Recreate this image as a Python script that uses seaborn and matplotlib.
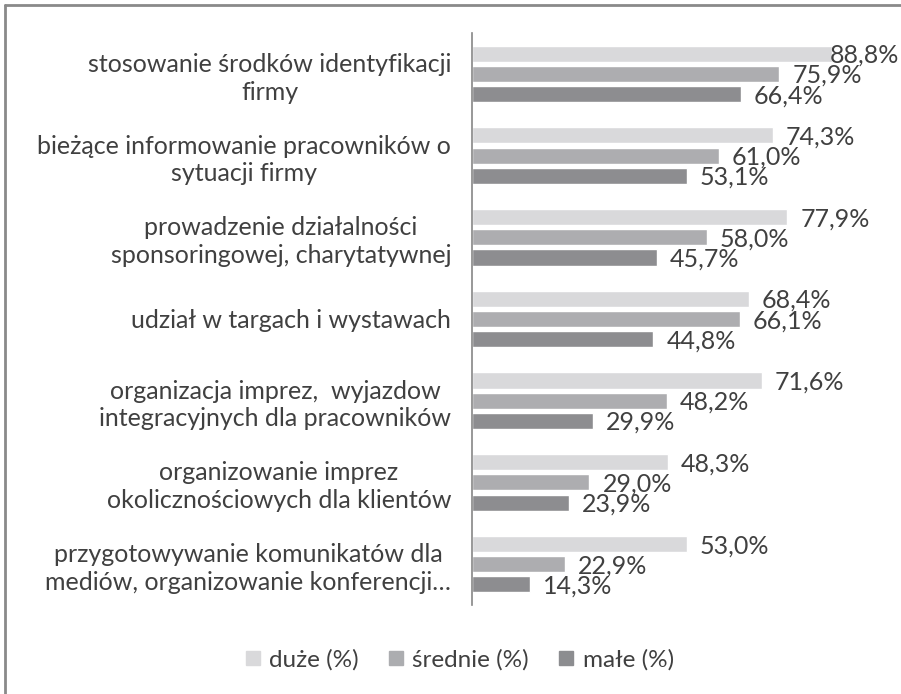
import matplotlib
matplotlib.use("Agg")
import matplotlib.pyplot as plt
import seaborn as sns
import pandas as pd

categories = [
    "stosowanie środków identyfikacji\nfirmy",
    "bieżące informowanie pracowników o\nsytuacji firmy",
    "prowadzenie działalności\nsponsoringowej, charytatywnej",
    "udział w targach i wystawach",
    "organizacja imprez,  wyjazdow\nintegracyjnych dla pracowników",
    "organizowanie imprez\nokolicznościowych dla klientów",
    "przygotowywanie komunikatów dla\nmediów, organizowanie konferencji…",
]
duze = [88.8, 74.3, 77.9, 68.4, 71.6, 48.3, 53.0]
srednie = [75.9, 61.0, 58.0, 66.1, 48.2, 29.0, 22.9]
male = [66.4, 53.1, 45.7, 44.8, 29.9, 23.9, 14.3]
series = ["duże (%)", "średnie (%)", "małe (%)"]
colors = ["#d9d9db", "#acadb0", "#8c8d90"]

df = pd.DataFrame({
    "kategoria": categories * 3,
    "seria": [series[0]] * 7 + [series[1]] * 7 + [series[2]] * 7,
    "wartosc": duze + srednie + male,
})

sns.set_style("white")
plt.rcParams["font.family"] = ["Lato", "DejaVu Sans"]
txt = "#404040"

fig = plt.figure(figsize=(9.01, 6.94), dpi=100)
ax = fig.add_axes([472 / 901, 1 - 605 / 694, 405 / 901, 572 / 694])

sns.barplot(data=df, x="wartosc", y="kategoria", hue="seria", orient="h",
            palette=colors, width=0.74, gap=0.2, ax=ax, legend=True)

ax.set_xlim(0, 100)
ax.set_xlabel("")
ax.set_ylabel("")
ax.set_xticks([])
for s in ["top", "right", "bottom"]:
    ax.spines[s].set_visible(False)
ax.spines["left"].set_color("#868686")
ax.spines["left"].set_linewidth(1.2)
ax.tick_params(axis="y", length=0, pad=15)
for lab in ax.get_yticklabels():
    lab.set_multialignment("center")
    lab.set_fontsize(18)
    lab.set_color(txt)
    lab.set_linespacing(1.25)

for cont in ax.containers:
    for bar in cont:
        w = bar.get_width()
        yc = bar.get_y() + bar.get_height() / 2
        ax.text(min(w + 3.2, 88.4), yc + 0.02, f"{w:.1f}%".replace(".", ","),
                ha="left", va="center", fontsize=18, color=txt, clip_on=False)

ax.legend_.remove()
handles = [plt.Rectangle((0, 0), 1, 1, color=c) for c in colors]
fig.legend(handles, series, loc="center", bbox_to_anchor=(460 / 901, 1 - 660 / 694),
           ncol=3, frameon=False, fontsize=17.5, handlelength=0.55, handleheight=0.55,
           handletextpad=0.4, columnspacing=1.25, labelcolor=txt)

# gray frame (left and top edges visible)
fig.add_artist(plt.Line2D([4.5 / 901, 4.5 / 901], [0, 1 - 4.5 / 694], color="#8a8a8a", lw=2))
fig.add_artist(plt.Line2D([4.5 / 901, 1], [1 - 4.5 / 694, 1 - 4.5 / 694], color="#8a8a8a", lw=2))

fig.savefig("out.png", dpi=100)
